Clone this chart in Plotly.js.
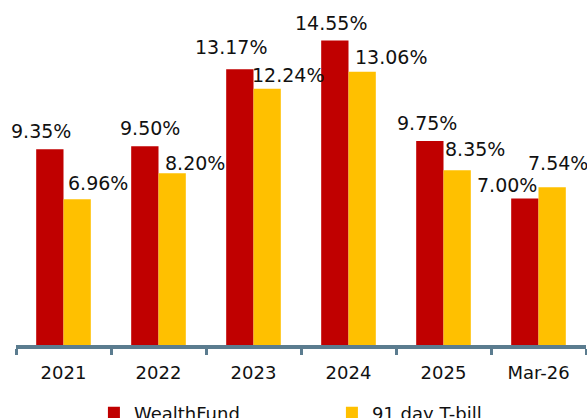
<!DOCTYPE html>
<html>
<head>
<meta charset="utf-8">
<script src="https://cdn.plot.ly/plotly-3.0.1.min.js"></script>
<style>
html,body{margin:0;padding:0;background:#fff;}
#chart{width:587px;height:418px;}
</style>
</head>
<body>
<div id="chart"></div>
<script>
// ---- data ----
const categories = ["2021", "2022", "2023", "2024", "2025", "Mar-26"];
const wealthFund = [9.35, 9.50, 13.17, 14.55, 9.75, 7.00];
const tBill = [6.96, 8.20, 12.24, 13.06, 8.35, 7.54];
const seriesNames = ["WealthFund", "91 day T-bill"];

// ---- label placement (layout only, pixel offsets from category centre / bar top) ----
const redLabelShift = [[-23, 18], [-9, 18], [-23, 22], [-18, 17], [-17, 18], [-32, 13]];
const yelLabelShift = [[34, 16], [36, 10], [34, 14], [42, 15], [31, 21], [19, 24]];

const FONT = "DejaVu Sans, Verdana, sans-serif";
const fmt = v => v.toFixed(2) + "%";

const traces = [
  {type: "bar", name: seriesNames[0], x: categories, y: wealthFund,
   marker: {color: "#C00000"}, hoverinfo: "skip"},
  {type: "bar", name: seriesNames[1], x: categories, y: tBill,
   marker: {color: "#FFC000"}, hoverinfo: "skip"}
];

const annotations = [];
categories.forEach((c, i) => {
  // category axes accept the category index as position
  annotations.push({x: i, y: wealthFund[i], xref: "x", yref: "y", text: fmt(wealthFund[i]),
    showarrow: false, xanchor: "center", yanchor: "middle",
    xshift: redLabelShift[i][0], yshift: redLabelShift[i][1],
    font: {family: FONT, size: 19, color: "#111"}});
  annotations.push({x: i, y: tBill[i], xref: "x", yref: "y", text: fmt(tBill[i]),
    showarrow: false, xanchor: "center", yanchor: "middle",
    xshift: yelLabelShift[i][0], yshift: yelLabelShift[i][1],
    font: {family: FONT, size: 19, color: "#111"}});
});

const layout = {
  width: 587, height: 418,
  margin: {l: 16, r: 1, t: 20, b: 73, autoexpand: false},
  paper_bgcolor: "#fff", plot_bgcolor: "#fff",
  barmode: "group", bargap: 0.425, bargroupgap: 0,
  font: {family: FONT, size: 18, color: "#111"},
  showlegend: true,
  legend: {orientation: "h", xref: "container", yref: "container",
    x: 0.16, y: 0.056, xanchor: "left", yanchor: "top",
    entrywidth: 193, entrywidthmode: "pixels",
    font: {family: FONT, size: 18, color: "#111"}, bgcolor: "rgba(0,0,0,0)"},
  xaxis: {type: "category", categoryorder: "array", categoryarray: categories,
    range: [-0.5, categories.length - 0.5], autorange: false,
    showline: true, linecolor: "#5B7C8F", linewidth: 4,
    ticks: "outside", tickson: "boundaries", ticklen: 6, tickwidth: 3, tickcolor: "#5B7C8F",
    tickangle: 0, ticklabelstandoff: 8,
    showgrid: false, zeroline: false, tickfont: {family: FONT, size: 18, color: "#111"}},
  yaxis: {range: [0, 15.528], visible: false, showgrid: false, zeroline: false, fixedrange: true},
  annotations: annotations
};

Plotly.newPlot("chart", traces, layout, {staticPlot: true, displayModeBar: false});
</script>
</body>
</html>
